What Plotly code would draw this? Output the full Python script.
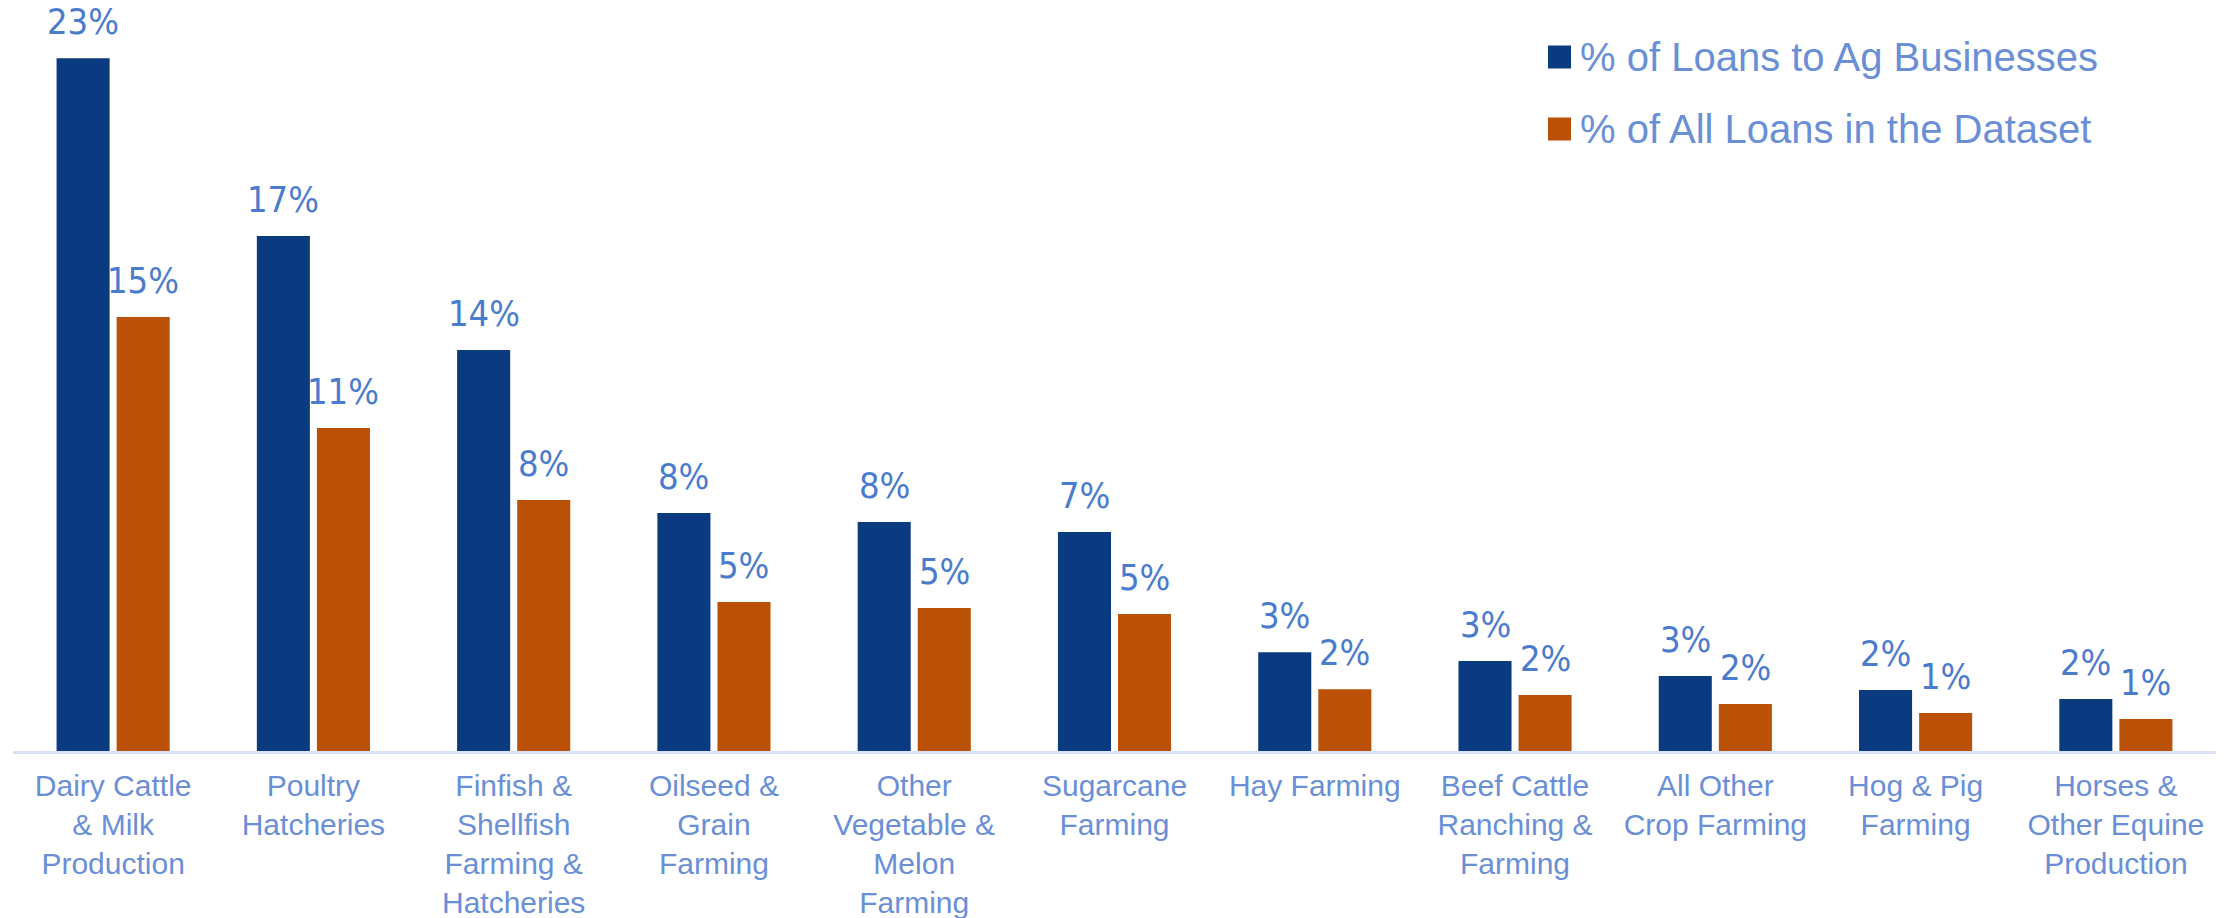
import plotly.graph_objects as go

# Agricultural industries, ordered by share of ag-business loans
categories = [
    "Dairy Cattle<br>& Milk<br>Production",
    "Poultry<br>Hatcheries",
    "Finfish &<br>Shellfish<br>Farming &<br>Hatcheries",
    "Oilseed &<br>Grain<br>Farming",
    "Other<br>Vegetable &<br>Melon<br>Farming",
    "Sugarcane<br>Farming",
    "Hay Farming",
    "Beef Cattle<br>Ranching &<br>Farming",
    "All Other<br>Crop Farming",
    "Hog & Pig<br>Farming",
    "Horses &<br>Other Equine<br>Production",
]

ag_loans_pct = [23.4, 17.4, 13.55, 8.04, 7.74, 7.4, 3.34, 3.04, 2.53, 2.06, 1.76]
all_loans_pct = [14.66, 10.91, 8.48, 5.03, 4.83, 4.63, 2.09, 1.89, 1.59, 1.28, 1.08]

series_names = ["% of Loans to Ag Businesses", "% of All Loans in the Dataset"]
series_colors = ["#0A3A7F", "#BB5107"]

W, H = 2239, 918
M_L, M_R, M_T, M_B = 13, 23, 0, 167
PLOT_W = W - M_L - M_R
PLOT_H = H - M_T - M_B
Y_MAX = 25.37

BARGAP = 0.4
BARGROUPGAP = 0.117

LABEL_COLOR = "#4A7BCC"
TICK_COLOR = "#6A8FD6"
FONT = "Liberation Sans, Arial, sans-serif"
CONDENSED = "DejaVu Sans Condensed, Roboto Condensed, Liberation Sans Narrow, Liberation Sans, sans-serif"

fig = go.Figure()
for name, vals, color in zip(series_names, [ag_loans_pct, all_loans_pct], series_colors):
    fig.add_trace(go.Bar(
        x=categories, y=vals, name=name,
        marker=dict(color=color, line=dict(width=0)),
        showlegend=False,
        hoverinfo="skip",
    ))

# Value labels sit above each bar, offset to the bar's slot within its group
cat_px = PLOT_W / len(categories)
slot_px = cat_px * (1 - BARGAP) / 2
for k, vals in enumerate([ag_loans_pct, all_loans_pct]):
    dx = (k - 0.5) * slot_px
    for cat, v in zip(categories, vals):
        fig.add_annotation(
            x=cat, y=v, xref="x", yref="y",
            text=f"{v:.0f}%", showarrow=False,
            xanchor="center", yanchor="bottom",
            xshift=dx, yshift=14,
            font=dict(family=CONDENSED, size=36, color=LABEL_COLOR),
        )


def px_to_paper(x, y):
    return (x - M_L) / PLOT_W, (M_T + PLOT_H - y) / PLOT_H


# Legend: colour swatch plus series name
legend_rows = [57, 129]
for name, color, yc in zip(series_names, series_colors, legend_rows):
    x0, y0 = px_to_paper(1548, yc + 11.5)
    x1, y1 = px_to_paper(1571, yc - 11.5)
    fig.add_shape(type="rect", xref="paper", yref="paper",
                  x0=x0, y0=y0, x1=x1, y1=y1,
                  fillcolor=color, line=dict(width=0))
    tx, ty = px_to_paper(1578, yc)
    fig.add_annotation(
        x=tx, y=ty, xref="paper", yref="paper",
        text=name, showarrow=False, xanchor="left", yanchor="middle",
        font=dict(family=FONT, size=40, color=TICK_COLOR),
    )

fig.update_layout(
    width=W, height=H,
    margin=dict(l=M_L, r=M_R, t=M_T, b=M_B, pad=0),
    paper_bgcolor="white", plot_bgcolor="white",
    barmode="group", bargap=BARGAP, bargroupgap=BARGROUPGAP,
    showlegend=False,
    font=dict(family=FONT, color=TICK_COLOR),
    xaxis=dict(
        showgrid=False, zeroline=False,
        showline=True, linecolor="#D9E2F3", linewidth=3,
        ticks="", tickfont=dict(family=FONT, size=30, color=TICK_COLOR),
        tickangle=0, automargin=False, ticklabelstandoff=6,
    ),
    yaxis=dict(
        range=[0, Y_MAX], visible=False, showgrid=False, zeroline=False,
    ),
)

fig.write_html("out.html")
